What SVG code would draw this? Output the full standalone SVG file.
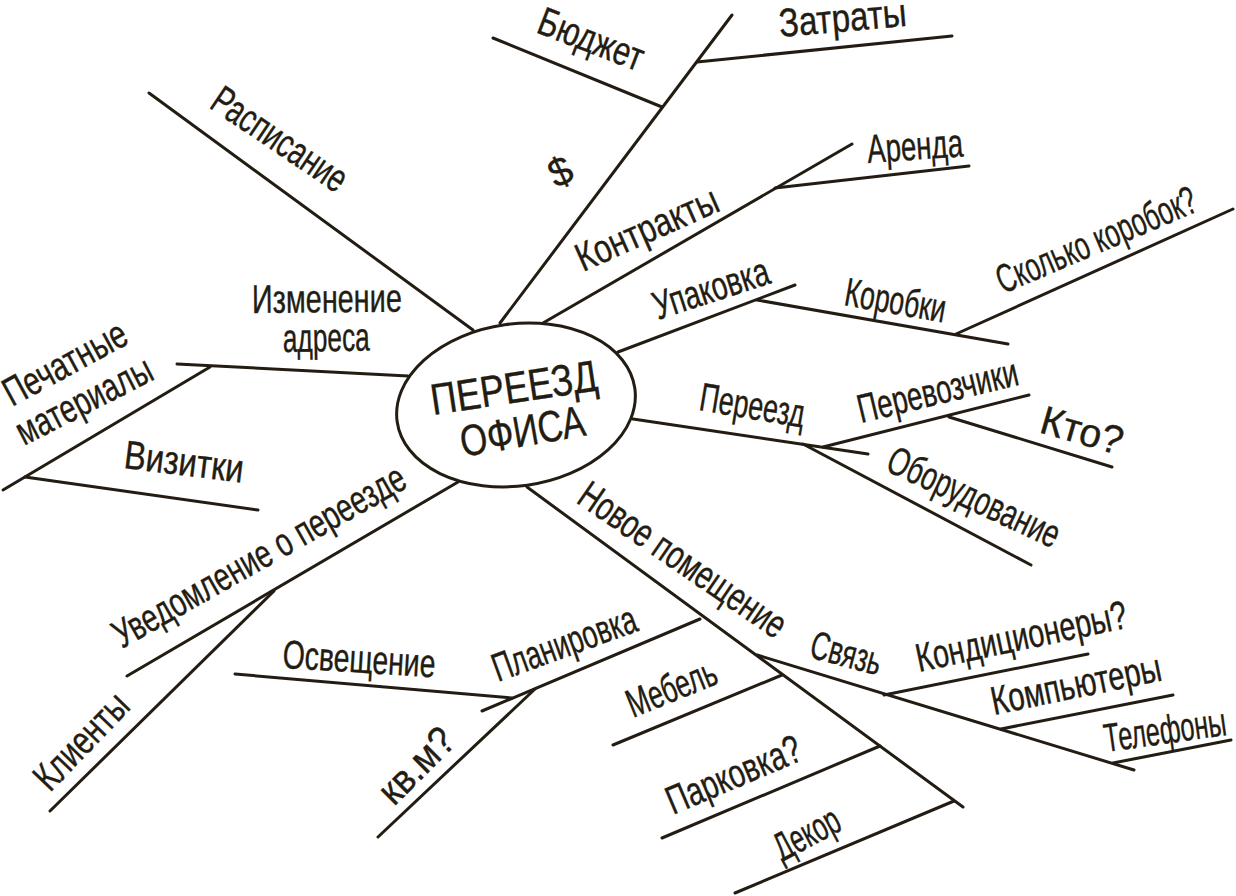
<svg xmlns="http://www.w3.org/2000/svg" width="1236" height="896" viewBox="0 0 1236 896">
<style>
.ln{stroke:#231c12;stroke-width:3;stroke-linecap:round;fill:none}
.t{font-family:"Liberation Sans","DejaVu Sans",sans-serif;font-size:40px;fill:#231c12;stroke:#231c12;stroke-width:0.4}
.c{font-family:"Liberation Sans","DejaVu Sans",sans-serif;font-size:44px;fill:#231c12;stroke:#231c12;stroke-width:0.4}
</style>
<rect width="1236" height="896" fill="#ffffff"/>
<g id="connectors">
<line class="ln" x1="149" y1="93" x2="473" y2="330"/>
<line class="ln" x1="500" y1="323" x2="732" y2="15"/>
<line class="ln" x1="493" y1="38" x2="662" y2="107"/>
<line class="ln" x1="697" y1="62" x2="952" y2="36"/>
<line class="ln" x1="543" y1="323" x2="852" y2="144"/>
<line class="ln" x1="775" y1="188" x2="969" y2="166"/>
<line class="ln" x1="618" y1="352" x2="795" y2="285"/>
<line class="ln" x1="757" y1="300" x2="1008" y2="344"/>
<line class="ln" x1="956" y1="334" x2="1233" y2="209"/>
<line class="ln" x1="633" y1="419" x2="868" y2="454"/>
<line class="ln" x1="823" y1="447" x2="1029" y2="395"/>
<line class="ln" x1="949" y1="417" x2="1112" y2="467"/>
<line class="ln" x1="803" y1="444" x2="1031" y2="565"/>
<line class="ln" x1="527" y1="487" x2="963" y2="807"/>
<line class="ln" x1="757" y1="655" x2="1134" y2="770"/>
<line class="ln" x1="884" y1="695" x2="1088" y2="654"/>
<line class="ln" x1="1001" y1="729" x2="1173" y2="695"/>
<line class="ln" x1="1113" y1="763" x2="1231" y2="740"/>
<line class="ln" x1="613" y1="745" x2="782" y2="675"/>
<line class="ln" x1="662" y1="838" x2="880" y2="746"/>
<line class="ln" x1="735" y1="893" x2="954" y2="801"/>
<line class="ln" x1="482" y1="711" x2="700" y2="619"/>
<line class="ln" x1="378" y1="837" x2="535" y2="689"/>
<line class="ln" x1="235" y1="674" x2="512" y2="698"/>
<line class="ln" x1="458" y1="482" x2="127" y2="676"/>
<line class="ln" x1="50" y1="811" x2="274" y2="591"/>
<line class="ln" x1="177" y1="364" x2="408" y2="376"/>
<line class="ln" x1="3" y1="490" x2="210" y2="367"/>
<line class="ln" x1="25" y1="477" x2="258" y2="510"/>
</g>
<g id="center">
<ellipse class="ln" cx="516" cy="405" rx="120" ry="81" transform="rotate(-8 516 405)"/>
<text class="c" transform="translate(433,415) rotate(-8.5)" textLength="168" lengthAdjust="spacingAndGlyphs">ПЕРЕЕЗД</text>
<text class="c" transform="translate(463,457) rotate(-10)" textLength="126" lengthAdjust="spacingAndGlyphs">ОФИСА</text>
</g>
<g id="n-raspisanie"><text class="t" transform="translate(208,107) rotate(34)" textLength="155" lengthAdjust="spacingAndGlyphs">Расписание</text></g>
<g id="n-byudzhet"><text class="t" transform="translate(535,32) rotate(21)" textLength="110" lengthAdjust="spacingAndGlyphs">Бюджет</text></g>
<g id="n-zatraty"><text class="t" transform="translate(780,37) rotate(-5)" textLength="128" lengthAdjust="spacingAndGlyphs">Затраты</text></g>
<g id="n-dollar"><text class="t" text-anchor="middle" transform="translate(566,184) rotate(-25)">$</text></g>
<g id="n-kontrakty"><text class="t" transform="translate(583,272) rotate(-24)" textLength="152" lengthAdjust="spacingAndGlyphs">Контракты</text></g>
<g id="n-arenda"><text class="t" transform="translate(868,163) rotate(-4)" textLength="96" lengthAdjust="spacingAndGlyphs">Аренда</text></g>
<g id="n-upakovka"><text class="t" transform="translate(658,320) rotate(-18)" textLength="120" lengthAdjust="spacingAndGlyphs">Упаковка</text></g>
<g id="n-korobki"><text class="t" transform="translate(843,305) rotate(10)" textLength="102" lengthAdjust="spacingAndGlyphs">Коробки</text></g>
<g id="n-skolko"><text class="t" transform="translate(1003,294) rotate(-23)" textLength="214" lengthAdjust="spacingAndGlyphs">Сколько коробок?</text></g>
<g id="n-pereezd"><text class="t" transform="translate(698,410) rotate(9.5)" textLength="106" lengthAdjust="spacingAndGlyphs">Переезд</text></g>
<g id="n-perevozchiki"><text class="t" transform="translate(861,423) rotate(-13.5)" textLength="164" lengthAdjust="spacingAndGlyphs">Перевозчики</text></g>
<g id="n-kto"><text class="t" transform="translate(1038,432) rotate(16)" textLength="84" lengthAdjust="spacingAndGlyphs">Кто?</text></g>
<g id="n-oborudovanie"><text class="t" transform="translate(884,470) rotate(25)" textLength="186" lengthAdjust="spacingAndGlyphs">Оборудование</text></g>
<g id="n-novoe"><text class="t" transform="translate(575,502) rotate(34.5)" textLength="243" lengthAdjust="spacingAndGlyphs">Новое помещение</text></g>
<g id="n-svyaz"><text class="t" transform="translate(808,657) rotate(15)" textLength="72" lengthAdjust="spacingAndGlyphs">Связь</text></g>
<g id="n-kondicionery"><text class="t" transform="translate(919,672) rotate(-12)" textLength="215" lengthAdjust="spacingAndGlyphs">Кондиционеры?</text></g>
<g id="n-kompyutery"><text class="t" transform="translate(994,715) rotate(-11.6)" textLength="173" lengthAdjust="spacingAndGlyphs">Компьютеры</text></g>
<g id="n-telefony"><text class="t" transform="translate(1106,752) rotate(-8)" textLength="123" lengthAdjust="spacingAndGlyphs">Телефоны</text></g>
<g id="n-mebel"><text class="t" transform="translate(633,718) rotate(-22)" textLength="94" lengthAdjust="spacingAndGlyphs">Мебель</text></g>
<g id="n-parkovka"><text class="t" transform="translate(673,815) rotate(-23)" textLength="143" lengthAdjust="spacingAndGlyphs">Парковка?</text></g>
<g id="n-dekor"><text class="t" transform="translate(782,862) rotate(-28)" textLength="70" lengthAdjust="spacingAndGlyphs">Декор</text></g>
<g id="n-planirovka"><text class="t" transform="translate(498,682) rotate(-20)" textLength="151" lengthAdjust="spacingAndGlyphs">Планировка</text></g>
<g id="n-osveshchenie"><text class="t" transform="translate(282,668) rotate(3.5)" textLength="153" lengthAdjust="spacingAndGlyphs">Освещение</text></g>
<g id="n-kvm"><text class="t" transform="translate(394,807) rotate(-45)" textLength="90" lengthAdjust="spacingAndGlyphs">кв.м?</text></g>
<g id="n-klienty"><text class="t" transform="translate(50,793) rotate(-46)" textLength="118" lengthAdjust="spacingAndGlyphs">Клиенты</text></g>
<g id="n-uvedomlenie"><text class="t" transform="translate(122,649) rotate(-29.5)" textLength="330" lengthAdjust="spacingAndGlyphs">Уведомление о переезде</text></g>
<g id="n-vizitki"><text class="t" transform="translate(123,468) rotate(7)" textLength="120" lengthAdjust="spacingAndGlyphs">Визитки</text></g>
<g id="n-pechatnye"><text class="t" transform="translate(12,407) rotate(-28.5)" textLength="135" lengthAdjust="spacingAndGlyphs">Печатные</text>
<text class="t" transform="translate(24,446) rotate(-27)" textLength="148" lengthAdjust="spacingAndGlyphs">материалы</text></g>
<g id="n-izmenenie"><text class="t" transform="translate(252,313) rotate(-0.5)" textLength="150" lengthAdjust="spacingAndGlyphs">Изменение</text>
<text class="t" transform="translate(283,352) rotate(-1)" textLength="87" lengthAdjust="spacingAndGlyphs">адреса</text></g>
</svg>
